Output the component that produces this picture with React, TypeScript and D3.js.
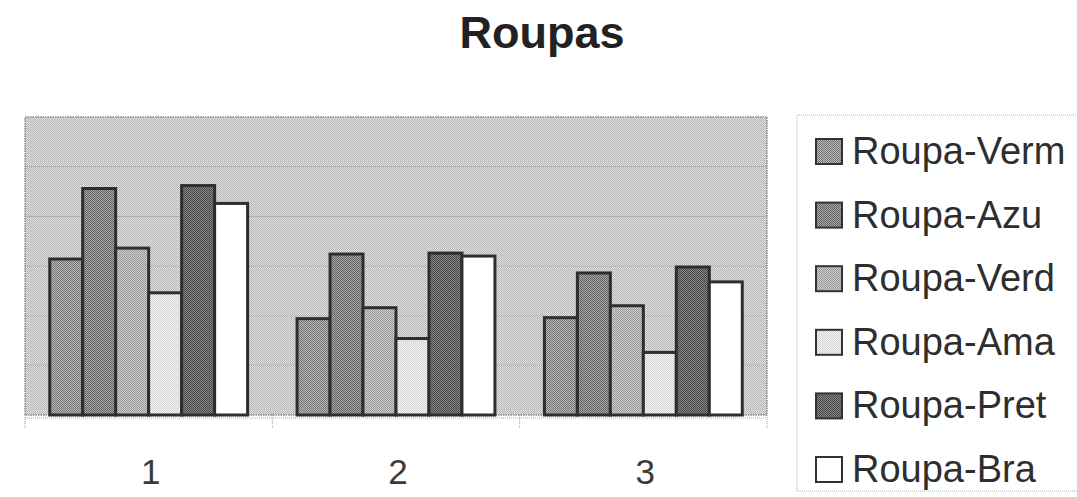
import React from "react";
import * as d3 from "d3";

const categories = ["1", "2", "3"];
const seriesNames = ["Roupa-Verm", "Roupa-Azu", "Roupa-Verd", "Roupa-Ama", "Roupa-Pret", "Roupa-Bra"];
const verm = [157, 97, 98];
const azu = [228, 162, 143];
const verd = [168, 108, 110];
const ama = [123, 77, 63];
const pret = [231, 163, 149];
const bra = [213, 160, 134];
const yTicks = [0, 50, 100, 150, 200, 250, 300];
const title = "Roupas";

const seriesValues = [verm, azu, verd, ama, pret, bra];
// pattern tones [dark, light] per series
const tones: [string, string][] = [
  ["#747474", "#b8b8b8"],
  ["#626262", "#a8a8a8"],
  ["#989898", "#cecece"],
  ["#d6d6d6", "#f2f2f2"],
  ["#464646", "#888888"],
  ["#ffffff", "#ffffff"],
];

const W = 1077;
const H = 497;
const plot = { left: 25, right: 767, top: 117, bottom: 415 };

export default function App() {
  const x0 = d3.scaleBand<string>().domain(categories).range([plot.left, plot.right]).padding(0);
  const x1 = d3
    .scaleBand<string>()
    .domain(seriesNames)
    .range([0, x0.bandwidth()])
    .paddingInner(0)
    .paddingOuter(0.75);
  const y = d3.scaleLinear().domain([0, 300]).range([plot.bottom, plot.top]);

  const boundaries = [...categories.map((c) => x0(c)!), plot.right];

  const legendX = 797;
  const legendY = 115;
  const legendBaselines = seriesNames.map((_, i) => 164 + i * 63.6);

  return (
    <div style={{ position: "absolute", left: 0, top: 0 }}>
      <svg width={W} height={H} style={{ display: "block", background: "#ffffff" }}>
        <defs>
          <pattern id="bgpat" width={2} height={2} patternUnits="userSpaceOnUse">
            <rect width={2} height={2} fill="#e2e2e2" />
            <rect width={1} height={1} fill="#b4b4b4" />
            <rect x={1} y={1} width={1} height={1} fill="#b4b4b4" />
          </pattern>
          {tones.map((t, i) => (
            <pattern key={i} id={`pat${i}`} width={2} height={2} patternUnits="userSpaceOnUse">
              <rect width={2} height={2} fill={t[1]} />
              <rect width={1} height={1} fill={t[0]} />
              <rect x={1} y={1} width={1} height={1} fill={t[0]} />
            </pattern>
          ))}
        </defs>

        <text
          x={542}
          y={48}
          textAnchor="middle"
          fontFamily="'Liberation Sans', Arial, sans-serif"
          fontWeight="bold"
          fontSize={45}
          fill="#222222"
        >
          {title}
        </text>

        {/* plot area */}
        <rect
          x={plot.left}
          y={plot.top}
          width={plot.right - plot.left}
          height={plot.bottom - plot.top}
          fill="url(#bgpat)"
        />
        {yTicks.slice(1, -1).map((t) => (
          <line
            key={t}
            x1={plot.left}
            x2={plot.right}
            y1={y(t)}
            y2={y(t)}
            stroke="#a0a0a0"
            strokeWidth={1}
            strokeDasharray="1,1"
          />
        ))}
        <rect
          x={plot.left}
          y={plot.top}
          width={plot.right - plot.left}
          height={plot.bottom - plot.top}
          fill="none"
          stroke="#8a8a8a"
          strokeWidth={1.5}
          strokeDasharray="1.5,1"
        />

        {/* bars */}
        {categories.map((c, ci) => (
          <g key={c}>
            {seriesNames.map((s, si) => {
              const v = seriesValues[si][ci];
              const bx = x0(c)! + x1(s)!;
              return (
                <rect
                  key={s}
                  x={bx}
                  y={y(v)}
                  width={x1.bandwidth()}
                  height={y(0) - y(v)}
                  fill={`url(#pat${si})`}
                  stroke="#2e2e2e"
                  strokeWidth={3}
                />
              );
            })}
          </g>
        ))}

        {/* x axis */}
        <line
          x1={plot.left}
          x2={plot.right}
          y1={plot.bottom + 3}
          y2={plot.bottom + 3}
          stroke="#aaaaaa"
          strokeWidth={1}
          strokeDasharray="1,1"
        />
        {boundaries.map((bx, i) => (
          <line
            key={i}
            x1={bx}
            x2={bx}
            y1={plot.bottom}
            y2={plot.bottom + 14}
            stroke="#999999"
            strokeWidth={1}
            strokeDasharray="1,1"
          />
        ))}
        {categories.map((c) => (
          <text
            key={c}
            x={x0(c)! + x0.bandwidth() / 2 + 2}
            y={484}
            textAnchor="middle"
            fontFamily="'Liberation Sans', Arial, sans-serif"
            fontSize={35}
            fill="#3a3a3a"
          >
            {c}
          </text>
        ))}

        {/* legend */}
        <rect
          x={legendX}
          y={legendY}
          width={W - legendX + 10}
          height={491 - legendY}
          fill="#ffffff"
          stroke="#b0b0b0"
          strokeWidth={1}
          strokeDasharray="1,1"
        />
        {seriesNames.map((s, i) => (
          <g key={s}>
            <rect
              x={816}
              y={legendBaselines[i] - 25}
              width={26}
              height={25}
              fill={`url(#pat${i})`}
              stroke="#333333"
              strokeWidth={2}
            />
            <text
              x={852}
              y={legendBaselines[i]}
              fontFamily="'Liberation Sans', Arial, sans-serif"
              fontSize={38}
              fill="#2e2e2e"
            >
              {s}
            </text>
          </g>
        ))}
      </svg>
    </div>
  );
}
